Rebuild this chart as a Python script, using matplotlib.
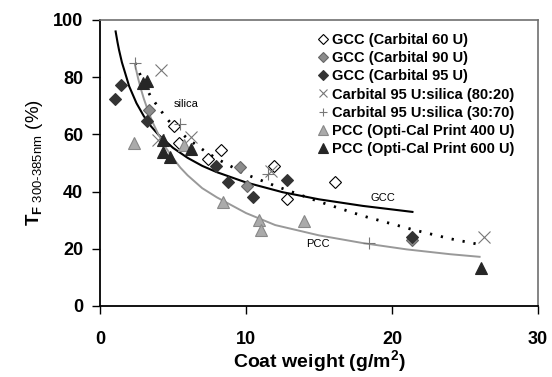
import matplotlib
matplotlib.use("Agg")
import matplotlib.pyplot as plt
from matplotlib.lines import Line2D

plt.rcParams['font.family'] = ['Liberation Sans', 'DejaVu Sans']
plt.rcParams['mathtext.fontset'] = 'custom'
plt.rcParams['mathtext.rm'] = 'Liberation Sans'
plt.rcParams['mathtext.bf'] = 'Liberation Sans:bold'

# measured points (coat weight g/m2, T_F %)
gcc60_x = [5.1, 5.4, 7.4, 8.3, 11.9, 12.8, 16.1]
gcc60_y = [63.0, 57.0, 51.4, 54.5, 49.0, 37.3, 43.2]
gcc90_x = [3.36, 9.6, 10.05, 21.4]
gcc90_y = [68.6, 48.7, 42.0, 23.2]
gcc95_x = [1.03, 1.44, 3.2, 7.95, 8.77, 10.5, 12.8, 21.4]
gcc95_y = [72.4, 77.4, 64.8, 49.0, 43.5, 38.2, 44.0, 24.2]
sil8020_x = [4.15, 4.0, 6.2, 11.7, 26.3]
sil8020_y = [82.5, 58.0, 59.0, 47.2, 24.2]
sil3070_x = [2.4, 5.5, 11.5, 18.4]
sil3070_y = [85.0, 63.5, 46.0, 22.1]
pcc400_x = [2.3, 5.75, 8.4, 10.9, 11.0, 14.0]
pcc400_y = [56.9, 56.3, 36.5, 30.0, 26.6, 29.7]
pcc600_x = [2.95, 3.2, 4.3, 4.3, 4.8, 6.2, 26.1]
pcc600_y = [78.0, 78.5, 58.0, 54.0, 52.2, 54.8, 13.4]

# trend curves
gcc_fit_x = [1.07, 1.2, 1.3, 1.5, 2, 2.5, 3, 3.5, 4, 5, 6, 7, 8, 10, 12.5, 15, 18, 21.4]
gcc_fit_y = [96.0, 92.2, 89.6, 85.2, 76.8, 70.9, 66.4, 62.8, 59.9, 55.3, 51.8, 49.0,
             46.8, 43.2, 39.8, 37.3, 35.0, 32.9]
silica_fit_x = [2.4, 2.7, 3, 3.5, 4, 4.5, 5, 6, 7, 8, 10, 12, 15, 18, 21.5, 24, 26.1]
silica_fit_y = [85.0, 81.5, 77.8, 73.0, 69.5, 66.0, 63.0, 58.5, 54.8, 51.5, 46.0, 42.0,
                36.5, 31.5, 26.6, 23.5, 21.4]
pcc_fit_x = [2.4, 2.6, 2.8, 3, 3.3, 3.6, 4, 4.5, 5, 5.5, 6, 7, 8, 10, 12, 15, 18, 21, 24, 26]
pcc_fit_y = [84.3, 79.8, 75.9, 72.5, 68.1, 64.3, 60.0, 55.4, 51.7, 48.4, 45.7, 41.2, 38.0,
             32.5, 28.3, 24.7, 22.0, 19.8, 18.1, 17.2]

fig = plt.figure(figsize=(5.52, 3.77), dpi=100)
ax = fig.add_axes([100 / 552, 71 / 377, 438 / 552, 286 / 377])

ax.plot(gcc_fit_x, gcc_fit_y, color='black', lw=1.5, zorder=2)
ax.plot(silica_fit_x, silica_fit_y, color='black', lw=2, ls=(0, (0.8, 3.2)), zorder=2)
ax.plot(pcc_fit_x, pcc_fit_y, color='#999999', lw=1.4, zorder=2)

ax.text(5.9, 70.6, 'silica', fontsize=8, ha='center', va='center')
ax.text(19.4, 37.7, 'GCC', fontsize=8, ha='center', va='center')
ax.text(14.9, 21.7, 'PCC', fontsize=8, ha='center', va='center')

styles = [
    (gcc60_x, gcc60_y, 'D', 'white', 'black', 'GCC (Carbital 60 U)', 6.5),
    (gcc90_x, gcc90_y, 'D', '#8c8c8c', '#666666', 'GCC (Carbital 90 U)', 6.5),
    (gcc95_x, gcc95_y, 'D', '#333333', '#333333', 'GCC (Carbital 95 U)', 6.5),
    (sil8020_x, sil8020_y, 'x', 'none', '#777777', 'Carbital 95 U:silica (80:20)', 8),
    (sil3070_x, sil3070_y, '+', 'none', '#777777', 'Carbital 95 U:silica (30:70)', 8),
    (pcc400_x, pcc400_y, '^', '#aaaaaa', '#888888', 'PCC (Opti-Cal Print 400 U)', 8.5),
    (pcc600_x, pcc600_y, '^', '#262626', '#262626', 'PCC (Opti-Cal Print 600 U)', 8.5),
]
handles = []
for xs, ys, m, fc, ec, lab, ms in styles:
    ax.plot(xs, ys, ls='none', marker=m, ms=ms, mfc=fc, mec=ec, mew=0.8, zorder=3)
    handles.append(Line2D([], [], ls='none', marker=m, ms=ms * 0.8, mfc=fc, mec=ec,
                          mew=0.8, label=lab))

leg = ax.legend(handles=handles, loc='upper left', bbox_to_anchor=(0.495, 0.955),
                frameon=False, handlelength=0.8, handletextpad=0.25, labelspacing=0.29,
                borderpad=0, borderaxespad=0, prop={'weight': 'bold', 'size': 10.5})

ax.set_xlim(0, 30)
ax.set_ylim(0, 100)
ax.set_xticks([0, 10, 20, 30])
ax.set_yticks([0, 20, 40, 60, 80, 100])
ax.tick_params(direction='out', length=6, width=1, labelsize=13)
ax.tick_params(axis='x', pad=12)
ax.tick_params(axis='y', pad=6)
for lbl in ax.get_xticklabels() + ax.get_yticklabels():
    lbl.set_fontweight('bold')
for s in ['left', 'bottom']:
    ax.spines[s].set_linewidth(1.3)
for s in ['top', 'right']:
    ax.spines[s].set_color('#707070')
    ax.spines[s].set_linewidth(1.2)

ax.set_xlabel(r'Coat weight (g/m$^\mathbf{2}$)', fontsize=14, fontweight='bold', labelpad=0)
ax.set_ylabel(r'$\mathbf{T}_{\mathbf{F}\ \mathrm{300\text{-}385nm}}\ \mathrm{(\%)}$', fontsize=13.5,
              labelpad=6)

fig.savefig('out.png', dpi=100)
